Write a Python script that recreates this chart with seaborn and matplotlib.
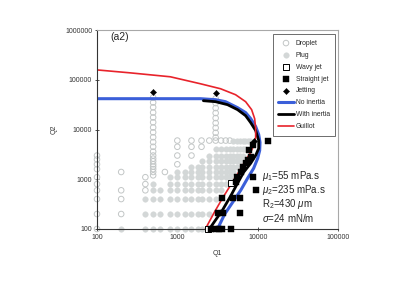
import matplotlib
matplotlib.use("Agg")
import matplotlib.pyplot as plt
import seaborn as sns

# regime map data, Q1 (outer) vs Q2 (inner) flow rates
droplet_q1 = [
    100, 100, 100, 100, 100, 100, 100, 100, 100, 100,
    200, 200, 200, 200,
    400, 400, 400,
    700,
    500, 500, 500, 500, 500, 500, 500, 500, 500, 500,
    500, 500, 500, 500, 500, 500, 500, 500, 500, 500,
    3000, 3000, 3000, 3000, 3000, 3000, 3000, 3000, 3000,
    1000, 1000, 1000, 1000,
    1500, 1500, 1500,
    2000, 2000,
    2500, 3000, 3500, 4000, 4500,
]
droplet_q2 = [
    100, 200, 400, 600, 800, 1100, 1600, 2000, 2500, 3000,
    200, 400, 600, 1400,
    600, 800, 1100,
    1400,
    44000, 35000, 28000, 22000, 17500, 14000, 11000, 8800, 7000, 5600,
    4500, 3600, 3000, 2600, 2300, 2000, 1800, 1600, 1400, 1200,
    42000, 34000, 27000, 21500, 17000, 13500, 10800, 8600, 6900,
    6000, 4500, 3000, 2000,
    6000, 4500, 3000,
    6000, 4500,
    6000, 6000, 6000, 6000, 6000,
]

plug_q1 = [
    200, 400, 500, 600, 800, 1000, 1250, 1500, 1800, 2000,
    400, 500, 600, 800, 1000, 1250, 1500, 1800, 2000, 2500,
    400, 500, 600, 800, 1000, 1250, 1500, 1800, 2000, 2500, 3000,
    500, 600, 800, 1000, 1250, 1500, 1800, 2000, 2500, 3000, 3500,
    500, 800, 1000, 1250, 1500, 1800, 2000, 2500, 3000, 3500, 4000,
    800, 1000, 1250, 1500, 1800, 2000, 2500, 3000, 3500, 4000, 4500,
    1000, 1250, 1500, 1800, 2000, 2500, 3000, 3500, 4000, 4500, 5000,
    1500, 1800, 2000, 2500, 3000, 3500, 4000, 4500, 5000, 5500,
    2000, 2500, 3000, 3500, 4000, 4500, 5000, 5500, 6000,
    2500, 3000, 3500, 4000, 4500, 5000, 5500, 6000, 6500,
    3000, 3500, 4000, 4500, 5000, 5500, 6000, 6500, 7000,
    5000, 5500, 6000, 6500, 7000, 7500, 8000,
]
plug_q2 = [
    100, 100, 100, 100, 100, 100, 100, 100, 100, 100,
    200, 200, 200, 200, 200, 200, 200, 200, 200, 200,
    400, 400, 400, 400, 400, 400, 400, 400, 400, 400, 400,
    600, 600, 600, 600, 600, 600, 600, 600, 600, 600, 600,
    800, 800, 800, 800, 800, 800, 800, 800, 800, 800, 800,
    1100, 1100, 1100, 1100, 1100, 1100, 1100, 1100, 1100, 1100, 1100,
    1400, 1400, 1400, 1400, 1400, 1400, 1400, 1400, 1400, 1400, 1400,
    1800, 1800, 1800, 1800, 1800, 1800, 1800, 1800, 1800, 1800,
    2300, 2300, 2300, 2300, 2300, 2300, 2300, 2300, 2300,
    3000, 3000, 3000, 3000, 3000, 3000, 3000, 3000, 3000,
    4000, 4000, 4000, 4000, 4000, 4000, 4000, 4000, 4000,
    6000, 6000, 6000, 6000, 6000, 6000, 6000,
]

wavy_q1 = [2400, 4600]
wavy_q2 = [100, 830]

straight_q1 = [2600, 3000, 3300, 3600, 4600, 3200, 3750, 6100, 3600, 4900, 6100,
               5300, 5600, 8700, 9400, 6150, 6500, 7080, 7500, 8200, 7800, 8700, 13300]
straight_q2 = [100, 100, 100, 100, 100, 210, 210, 210, 417, 417, 417,
               870, 1100, 1100, 600, 1380, 1740, 2090, 2400, 2750, 3800, 4800, 6000]

jetting_q1 = [500, 3000, 9000]
jetting_q2 = [57000, 55000, 6000]

# model curves
no_inertia_q1 = [100, 1940, 2990, 3980, 5620, 7080, 8180, 9440, 10300, 10700,
                 10600, 10000, 8910, 7500, 6150, 4900, 3890, 3160]
no_inertia_q2 = [41700, 41700, 39800, 36300, 27500, 21900, 16600, 11500, 7940, 5500,
                 3800, 2630, 1660, 1050, 600, 347, 200, 100]

inertia_q1 = [2110, 2990, 4220, 5620, 7080, 8180, 9440, 10300, 10300, 9440,
              8180, 6680, 5620, 4600, 3650, 2820, 2510]
inertia_q2 = [38000, 36300, 31600, 25100, 19000, 13800, 9550, 6030, 4170, 3020,
              2090, 1380, 832, 457, 240, 132, 100]

guillot_q1 = [100, 258, 818, 1940, 3450, 5310, 7080, 8410, 9170, 9440, 9440, 8910,
              8180, 7080, 5790, 4600, 3650, 2900, 2370, 2240]
guillot_q2 = [158000, 138000, 115000, 83200, 66100, 50100, 36300, 25100, 16600, 10500,
              6920, 4790, 3470, 2400, 1380, 760, 417, 219, 120, 100]

sns.set_theme(style="white")
plt.rcParams['font.family'] = ['Liberation Sans', 'DejaVu Sans']
plt.rcParams['mathtext.fontset'] = 'custom'
plt.rcParams['mathtext.rm'] = 'Liberation Sans'
plt.rcParams['mathtext.it'] = 'Liberation Sans:italic'

fig = plt.figure(figsize=(4.03, 2.85), dpi=100)
ax = fig.add_axes([0.2407, 0.1965, 0.598, 0.698])
ax.set_xscale('log')
ax.set_yscale('log')

gray_edge = '#c2c6c6'
gray_fill = '#d3d7d7'

sns.scatterplot(x=droplet_q1, y=droplet_q2, ax=ax, marker='o', s=16, color=gray_edge,
                facecolor='none', edgecolor=gray_edge, linewidth=0.7, clip_on=False,
                zorder=1.5, label='Droplet')
sns.scatterplot(x=plug_q1, y=plug_q2, ax=ax, marker='o', s=16, color=gray_fill,
                edgecolor=gray_fill, linewidth=0.3, clip_on=False, zorder=1.5, label='Plug')

sns.lineplot(x=no_inertia_q1, y=no_inertia_q2, ax=ax, sort=False, estimator=None,
             color='#3b5fd9', lw=2.2, zorder=2, label='No inertia')
sns.lineplot(x=inertia_q1, y=inertia_q2, ax=ax, sort=False, estimator=None,
             color='black', lw=2.0, zorder=2.1, label='With inertia')
sns.lineplot(x=guillot_q1, y=guillot_q2, ax=ax, sort=False, estimator=None,
             color='#e8232b', lw=1.2, zorder=2.2, label='Guillot')

sns.scatterplot(x=wavy_q1, y=wavy_q2, ax=ax, marker='s', s=14, color='black',
                facecolor='white', edgecolor='black', linewidth=0.7, clip_on=False,
                zorder=3, label='Wavy jet')
sns.scatterplot(x=straight_q1, y=straight_q2, ax=ax, marker='s', s=14, color='black',
                edgecolor='black', linewidth=0.3, clip_on=False, zorder=3, label='Straight jet')
sns.scatterplot(x=jetting_q1, y=jetting_q2, ax=ax, marker='D', s=10, color='black',
                edgecolor='black', linewidth=0.3, clip_on=False, zorder=3, label='Jetting')

ax.set_xlim(100, 100000)
ax.set_ylim(100, 1000000)
ax.set_xticks([100, 1000, 10000, 100000])
ax.set_xticklabels(['100', '1000', '10000', '100000'])
ax.set_yticks([100, 1000, 10000, 100000, 1000000])
ax.set_yticklabels(['100', '1000', '10000', '100000', '1000000'])
ax.minorticks_off()
ax.tick_params(axis='both', which='major', direction='inout', length=3, width=0.6,
               labelsize=5, pad=2, colors='#333333', left=True, bottom=True)

for side in ['left', 'bottom']:
    ax.spines[side].set_color('#333333')
    ax.spines[side].set_linewidth(0.8)
for side in ['top', 'right']:
    ax.spines[side].set_color('#a8a8a8')
    ax.spines[side].set_linewidth(0.8)

ax.set_xlabel('Q1', fontsize=5, color='#333333')
ax.set_ylabel('Q2', fontsize=5, color='#333333')
ax.xaxis.set_label_coords(0.5, -0.105)
ax.yaxis.set_label_coords(-0.162, 0.5)

ax.text(0.095, 0.965, '(a2)', transform=ax.transAxes, fontsize=7.5, ha='center', va='center')

notes = [r'$\mu_1$=55 mPa.s', r'$\mu_2$=235 mPa.s', r'R$_2$=430 $\mu$m', r'$\sigma$=24 mN/m']
note_y = [0.266, 0.196, 0.126, 0.055]
for txt, ny in zip(notes, note_y):
    ax.text(0.685, ny, txt, transform=ax.transAxes, fontsize=7, ha='left', va='center')

order = ['Droplet', 'Plug', 'Wavy jet', 'Straight jet', 'Jetting',
         'No inertia', 'With inertia', 'Guillot']
handles, labels = ax.get_legend_handles_labels()
lookup = dict(zip(labels, handles))
leg = ax.legend([lookup[k] for k in order], order, loc='upper right',
                bbox_to_anchor=(0.995, 0.985), fontsize=4.9, labelspacing=0.72,
                handlelength=2.3, handletextpad=0.3, borderpad=0.8, borderaxespad=0.2,
                fancybox=False, framealpha=1, edgecolor='#555555')
leg.get_frame().set_linewidth(0.6)

fig.savefig('out.png', dpi=100)
